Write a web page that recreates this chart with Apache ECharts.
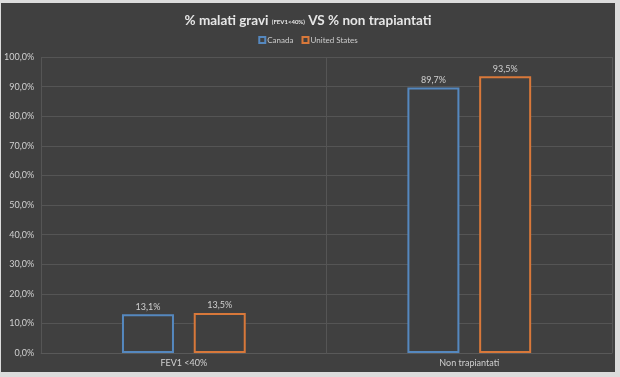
<!DOCTYPE html>
<html>
<head>
<meta charset="utf-8">
<script src="https://cdn.jsdelivr.net/npm/echarts@6/dist/echarts.min.js"></script>
<style>
  html, body { margin: 0; padding: 0; background: #dcdcdc; }
  #chart { position: absolute; left: 1px; top: 3px; width: 614px; height: 369px; }
</style>
</head>
<body>
<div id="chart"></div>
<script>
var categories = ['FEV1 <40%', 'Non trapiantati'];
var seriesNames = ['Canada', 'United States'];
var canadaValues = [13.1, 89.7];
var usValues = [13.5, 93.5];
var seriesColors = ['#5588bf', '#d8783a'];

function pct(v) {
    return v.toFixed(1).replace('.', ',') + '%';
}

var chart = echarts.init(document.getElementById('chart'));
var labelStyle = {
    show: true,
    position: 'top',
    distance: 3,
    color: '#d0d0d0',
    fontFamily: 'Lato',
    fontSize: 9,
    formatter: function (p) { return pct(p.value); }
};

var options = {
    backgroundColor: '#404040',
    animation: false,
    title: {
        text: '{big|% malati gravi }{small|(FEV1<40%)}{big| VS % non trapiantati}',
        left: 'center',
        top: 6,
        textStyle: {
            rich: {
                big: { color: '#e6e6e6', fontFamily: 'Lato', fontWeight: 'bold', fontSize: 13.5 },
                small: { color: '#e6e6e6', fontFamily: 'Lato', fontWeight: 'bold', fontSize: 6, padding: [3, 0, 0, 0] }
            }
        }
    },
    legend: {
        top: 28,
        left: 'center',
        itemWidth: 6,
        itemHeight: 6,
        itemGap: 8,
        icon: 'rect',
        textStyle: { color: '#cccccc', fontFamily: 'Lato', fontSize: 8, padding: [0, 0, 0, -3] },
        data: seriesNames
    },
    grid: {
        left: 39,
        right: 3,
        top: 54,
        bottom: 19,
        containLabel: false
    },
    xAxis: {
        type: 'category',
        data: categories,
        axisLine: { lineStyle: { color: '#595959' } },
        axisTick: { show: false },
        splitLine: { show: true, lineStyle: { color: '#555555' } },
        axisLabel: { color: '#d0d0d0', fontFamily: 'Lato', fontSize: 9, margin: 6 }
    },
    yAxis: {
        type: 'value',
        min: 0,
        max: 100,
        interval: 10,
        axisLine: { show: false },
        axisTick: { show: false },
        splitLine: { lineStyle: { color: '#555555' } },
        axisLabel: {
            color: '#d0d0d0', fontFamily: 'Lato', fontSize: 9, margin: 7,
            formatter: function (v) { return pct(v); }
        }
    },
    series: [{
        name: seriesNames[0],
        type: 'bar',
        data: canadaValues,
        barWidth: 52,
        barGap: '38%',
        itemStyle: { color: '#404040', borderColor: seriesColors[0], borderWidth: 2 },
        label: labelStyle
    }, {
        name: seriesNames[1],
        type: 'bar',
        data: usValues,
        barWidth: 52,
        barGap: '38%',
        itemStyle: { color: '#404040', borderColor: seriesColors[1], borderWidth: 2 },
        label: labelStyle
    }]
};
chart.setOption(options);
</script>
</body>
</html>
